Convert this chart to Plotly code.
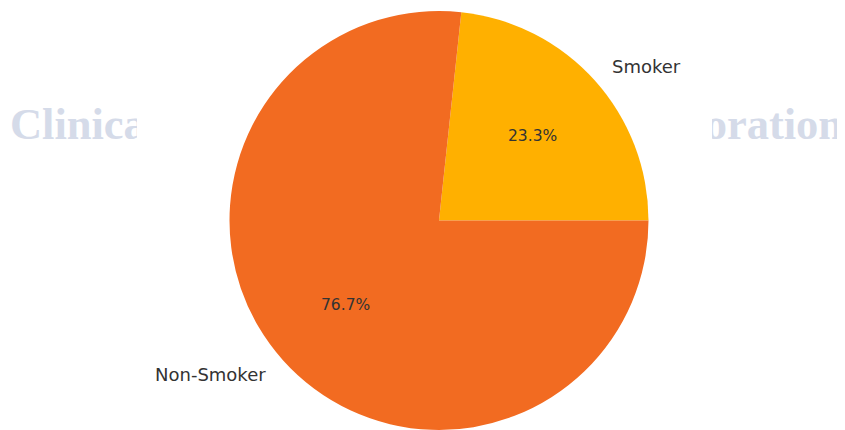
import math
import plotly.graph_objects as go

# ---- data ----
labels = ["Smoker", "Non-Smoker"]
values = [23.3, 76.7]
colors = ["#FFB000", "#F26B21"]
watermark = "Clinical Patients Smoking Data Exploration"

# ---- geometry (screen pixels; page body has an 8px margin) ----
W, H = 845, 430
OFF = 8
cx, cy = 439.0, 220.5
r = 209.5

total = sum(values)
fracs = [v / total for v in values]

fig = go.Figure()

# watermark text (drawn below the pie)
fig.add_trace(go.Scatter(
    x=[426.5], y=[128], mode="text", text=[watermark],
    textposition="middle center",
    textfont=dict(family="Liberation Serif", size=44.5, color="#d5dbe9", weight="bold"),
    hoverinfo="skip", showlegend=False, xaxis="x", yaxis="y"))

# white axes background hiding the middle of the watermark
fig.add_trace(go.Scatter(
    x=[137, 712, 712, 137, 137], y=[0, 0, H + OFF, H + OFF, 0], mode="lines",
    fill="toself", fillcolor="white", line=dict(width=0, color="white"),
    hoverinfo="skip", showlegend=False, xaxis="x", yaxis="y"))

pcx, pcy = cx - OFF, cy - OFF
fig.add_trace(go.Pie(
    labels=labels, values=values, sort=False, direction="clockwise",
    rotation=90 - 360 * fracs[0],
    marker=dict(colors=colors, line=dict(width=0)),
    textinfo="none", hoverinfo="label+percent", showlegend=False,
    domain=dict(x=[(pcx - r) / W, (pcx + r) / W], y=[(H - pcy - r) / H, (H - pcy + r) / H])))

# labels and percentages (matplotlib-like placement)
annotations = []
start = 0.0
for lab, f in zip(labels, fracs):
    mid = math.radians((start + f / 2) * 360)
    start += f
    c, s = math.cos(mid), math.sin(mid)
    annotations.append(dict(
        x=cx + 1.1 * r * c, y=cy - 1.1 * r * s, xref="x", yref="y",
        text=lab, showarrow=False,
        xanchor="left" if c >= 0 else "right", yanchor="middle",
        font=dict(family="DejaVu Sans", size=18, color="#333333")))
    annotations.append(dict(
        x=cx + 0.6 * r * c, y=cy - 0.6 * r * s, xref="x", yref="y",
        text=f"{f * 100:.1f}%", showarrow=False,
        xanchor="center", yanchor="middle",
        font=dict(family="DejaVu Sans", size=15.5, color="#333333")))

fig.update_layout(
    width=W, height=H,
    margin=dict(l=0, r=0, t=0, b=0),
    paper_bgcolor="white", plot_bgcolor="rgba(0,0,0,0)",
    xaxis=dict(range=[OFF, W + OFF], domain=[0, 1], visible=False, fixedrange=True),
    yaxis=dict(range=[H + OFF, OFF], domain=[0, 1], visible=False, fixedrange=True),
    annotations=annotations,
)

fig.write_html("out.html")
